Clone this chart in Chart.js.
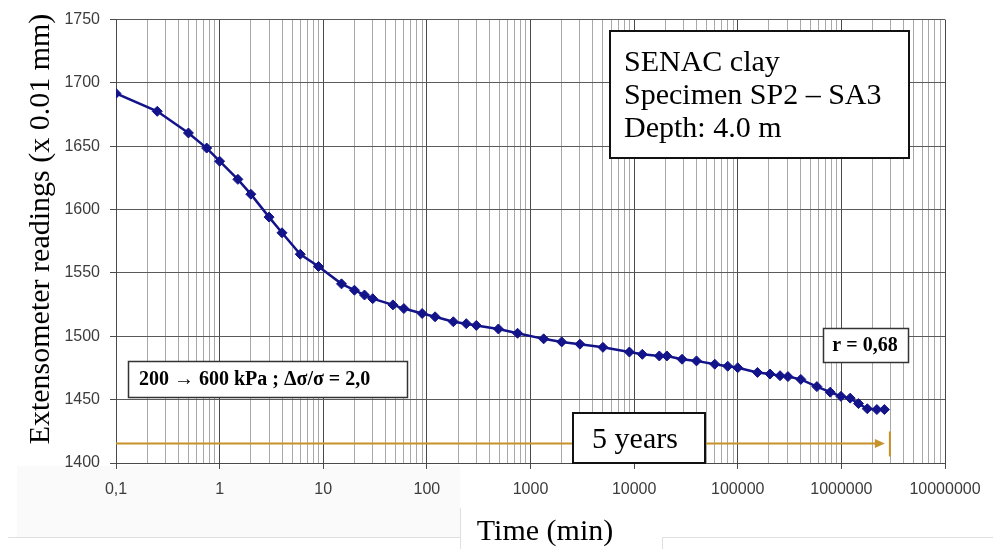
<!DOCTYPE html>
<html>
<head>
<meta charset="utf-8">
<script src="https://cdn.jsdelivr.net/npm/chart.js@4"></script>
<style>
  html, body { margin: 0; padding: 0; background: #ffffff; }
  #chart { display: block; }
</style>
</head>
<body>
<canvas id="chart" width="993" height="549"></canvas>
<script>
// Elapsed time since loading (min)
const times = [0.1, 0.25, 0.5, 0.75, 1, 1.5, 2, 3, 4, 6, 9, 15, 20, 25, 30, 47, 60, 90, 120, 180,
  240, 300, 490, 750, 1340, 2000, 3000, 5000, 9000, 12000, 17500, 20700, 29000, 40000, 60000,
  80000, 100000, 155000, 205000, 256000, 305000, 406000, 580000, 780000, 990000, 1216000,
  1463000, 1780000, 2200000, 2600000];
// Extensometer readings (x 0.01 mm)
const readings = [1691.7, 1677.6, 1660.5, 1648.6, 1638.2, 1623.9, 1612.2, 1594.1, 1581.7, 1564.8,
  1555.1, 1541.4, 1536.4, 1532.6, 1529.7, 1524.8, 1521.9, 1518.0, 1515.4, 1511.5,
  1510.0, 1508.6, 1505.8, 1502.4, 1498.0, 1495.6, 1493.8, 1491.3, 1487.6, 1485.8,
  1484.5, 1484.5, 1481.9, 1480.6, 1478.0, 1476.4, 1475.2, 1471.5, 1470.2, 1468.9,
  1468.2, 1466.0, 1460.3, 1455.9, 1452.6, 1451.2, 1446.9, 1442.8, 1442.2, 1442.2];

// Decade ticks and their labels on the time axis
const decades = [0.1, 1, 10, 100, 1000, 10000, 100000, 1000000, 10000000];
const decadeLabels = ['0,1', '1', '10', '100', '1000', '10000', '100000', '1000000', '10000000'];
// Reading axis
const yMin = 1400, yMax = 1750, yStep = 50;

// Five-year horizon and the level of its arrow
const fiveYearsMin = 5 * 365 * 24 * 60;
const arrowLevel = 1416;

// Text blocks
const specimenLines = ['SENAC clay', 'Specimen SP2 \u2013 SA3', 'Depth: 4.0 m'];
const loadText = '200 \u2192 600 kPa ; \u0394\u03c3/\u03c3 = 2,0';
const rText = 'r = 0,68';
const horizonText = '5 years';
const xTitle = 'Time (min)';
const yTitle = 'Extensometer readings (x 0.01 mm)';

// Full set of log grid positions: 1..9 x each decade
const gridValues = [];
decades.forEach((d, i) => {
  if (i === decades.length - 1) { gridValues.push(d); return; }
  for (let k = 1; k <= 9; k++) gridValues.push(k === 1 ? d : Number((k * d).toPrecision(6)));
});
const isDecade = v => decades.indexOf(v) !== -1;

const SERIF = '"Liberation Serif", "Times New Roman", serif';
const SANS = '"Liberation Sans", Arial, sans-serif';

function box(ctx, x, y, w, h, lw, color) {
  ctx.save();
  ctx.fillStyle = '#ffffff';
  ctx.fillRect(x, y, w, h);
  ctx.lineWidth = lw;
  ctx.strokeStyle = color;
  ctx.strokeRect(x, y, w, h);
  ctx.restore();
}

const decorations = {
  id: 'decorations',
  beforeDraw(chart) {
    const ctx = chart.ctx;
    ctx.save();
    // faint panel beneath the axis
    ctx.fillStyle = '#fafafa';
    ctx.fillRect(17, 466, 443, 71);
    ctx.strokeStyle = '#e0e0e0';
    ctx.lineWidth = 1;
    ctx.beginPath();
    ctx.moveTo(8, 537.5); ctx.lineTo(460.5, 537.5);
    ctx.moveTo(460.5, 508); ctx.lineTo(460.5, 549);
    ctx.moveTo(662.5, 537.5); ctx.lineTo(993, 537.5);
    ctx.moveTo(662.5, 537); ctx.lineTo(662.5, 549);
    ctx.stroke();
    ctx.restore();
  },
  beforeDatasetsDraw(chart) {
    const { ctx, scales: { x, y }, chartArea } = chart;
    const yy = Math.round(y.getPixelForValue(arrowLevel)) + 0.5;
    const tip = x.getPixelForValue(fiveYearsMin);
    ctx.save();
    ctx.strokeStyle = '#c8922a';
    ctx.fillStyle = '#c8922a';
    ctx.lineWidth = 2;
    ctx.beginPath();
    ctx.moveTo(chartArea.left, yy);
    ctx.lineTo(tip - 8, yy);
    ctx.stroke();
    ctx.beginPath();
    ctx.moveTo(tip, yy);
    ctx.lineTo(tip - 10, yy - 4.5);
    ctx.lineTo(tip - 10, yy + 4.5);
    ctx.closePath();
    ctx.fill();
    ctx.beginPath();
    ctx.moveTo(tip + 5, yy - 12);
    ctx.lineTo(tip + 5, yy + 13);
    ctx.stroke();
    ctx.restore();
  },
  afterDatasetsDraw(chart) {
    const ctx = chart.ctx;
    ctx.save();
    // specimen box
    box(ctx, 610, 31, 299, 127, 2, '#111111');
    ctx.fillStyle = '#000000';
    ctx.font = '30px ' + SERIF;
    ctx.textAlign = 'left';
    ctx.textBaseline = 'alphabetic';
    [71, 104, 137].forEach((by, i) => ctx.fillText(specimenLines[i], 624, by));

    // loading step box
    box(ctx, 128.5, 361.5, 279, 36, 1.5, '#333333');
    ctx.font = 'bold 20px ' + SERIF;
    ctx.textBaseline = 'middle';
    ctx.fillText(loadText, 139, 380);

    // correlation box
    box(ctx, 823.5, 328.5, 85, 34, 1.5, '#333333');
    ctx.textAlign = 'center';
    ctx.fillText(rText, 865, 346);

    // horizon box
    box(ctx, 573, 413, 132, 50, 2, '#111111');
    ctx.font = '30px ' + SERIF;
    ctx.textBaseline = 'alphabetic';
    ctx.fillText(horizonText, 635, 448);

    // axis titles
    ctx.fillText(xTitle, 545, 540);
    ctx.translate(41, 229);
    ctx.rotate(-Math.PI / 2);
    ctx.textBaseline = 'middle';
    ctx.fillText(yTitle, 0, 0);
    ctx.restore();
  }
};

new Chart(document.getElementById('chart'), {
  type: 'line',
  data: {
    datasets: [{
      data: times.map((t, i) => ({ x: t, y: readings[i] })),
      borderColor: '#13138a',
      backgroundColor: '#13138a',
      borderWidth: 2.5,
      pointStyle: 'rectRot',
      pointRadius: 5,
      pointBorderWidth: 1,
      pointBorderColor: '#13138a',
      pointBackgroundColor: '#13138a',
      tension: 0,
      fill: false
    }]
  },
  options: {
    responsive: false,
    animation: false,
    devicePixelRatio: 1,
    layout: { padding: { left: 0, top: 14, right: 48, bottom: 0 } },
    plugins: { legend: { display: false }, tooltip: { enabled: false } },
    scales: {
      x: {
        type: 'logarithmic',
        min: decades[0],
        max: decades[decades.length - 1],
        afterBuildTicks: s => { s.ticks = gridValues.map(v => ({ value: v })); },
        afterFit: s => { s.height = 86; },
        ticks: {
          autoSkip: false,
          maxRotation: 0,
          padding: 11,
          color: '#3c3c3c',
          font: { family: SANS, size: 16 },
          callback: v => { const i = decades.indexOf(v); return i === -1 ? '' : decadeLabels[i]; }
        },
        grid: {
          lineWidth: 1,
          color: c => (c.tick && isDecade(c.tick.value)) ? '#4a4a4a' : '#a8a8a8',
          tickColor: c => (c.tick && isDecade(c.tick.value)) ? '#4a4a4a' : 'rgba(0,0,0,0)',
          tickLength: 6
        },
        border: { display: true, color: '#4a4a4a', width: 1 }
      },
      y: {
        min: yMin,
        max: yMax,
        afterFit: s => { s.width = 116; },
        ticks: {
          stepSize: yStep,
          padding: 10,
          color: '#3c3c3c',
          font: { family: SANS, size: 16 },
          callback: v => String(v)
        },
        grid: { color: '#5a5a5a', lineWidth: 1, tickColor: '#4a4a4a', tickLength: 6 },
        border: { display: true, color: '#4a4a4a', width: 1 }
      }
    }
  },
  plugins: [decorations]
});
</script>
</body>
</html>
